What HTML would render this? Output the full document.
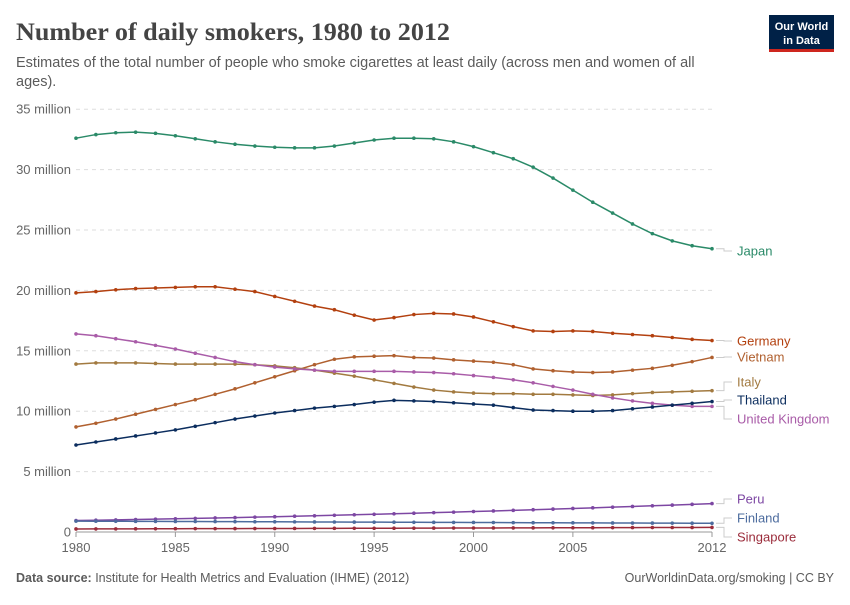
<!DOCTYPE html>
<html><head><meta charset="utf-8"><style>
body{margin:0;background:#fff;width:850px;height:600px;overflow:hidden;font-family:"Liberation Sans",sans-serif}
</style></head><body>
<svg width="850" height="600" xmlns="http://www.w3.org/2000/svg" id="s">
<text x="16" y="40" font-family="Liberation Serif,serif" font-size="25" font-weight="bold" fill="#444" textLength="434" lengthAdjust="spacingAndGlyphs">Number of daily smokers, 1980 to 2012</text>
<text x="16" y="67" font-size="14.5" fill="#5b5b5b">Estimates of the total number of people who smoke cigarettes at least daily (across men and women of all</text>
<text x="16" y="86" font-size="14.5" fill="#5b5b5b">ages).</text>
<rect x="769" y="15" width="65" height="35" fill="#002147"/>
<rect x="769" y="49" width="65" height="3" fill="#ce261e"/>
<text x="801.5" y="30" text-anchor="middle" font-size="11" font-weight="bold" fill="#fff">Our World</text>
<text x="801.5" y="44" text-anchor="middle" font-size="11" font-weight="bold" fill="#fff">in Data</text>
<text x="16" y="582" font-size="12.5" fill="#5b5b5b"><tspan font-weight="bold">Data source:</tspan> Institute for Health Metrics and Evaluation (IHME) (2012)</text>
<text x="834" y="582" text-anchor="end" font-size="12.5" fill="#5b5b5b">OurWorldinData.org/smoking | CC BY</text>
<g id="g"></g>
</svg>
<script>
var g=document.getElementById('g'),h='';
function X(y){return 76+(y-1980)*19.875}
function Y(v){return 532-v*12.08}
for(var i=0;i<=7;i++){var y=Y(i*5);
 if(i>0)h+='<line x1="76" x2="712" y1="'+y+'" y2="'+y+'" stroke="#ddd" stroke-dasharray="4,4"/>';
 h+='<text x="71" y="'+(y+4.5)+'" text-anchor="end" font-size="13" fill="#666">'+(i==0?'0':i*5+' million')+'</text>';}
h+='<line x1="76" x2="712" y1="532" y2="532" stroke="#999"/>';
[1980,1985,1990,1995,2000,2005,2012].forEach(function(t){h+='<line x1="'+X(t)+'" x2="'+X(t)+'" y1="532" y2="537" stroke="#999"/><text x="'+X(t)+'" y="552" text-anchor="middle" font-size="13" fill="#666">'+t+'</text>'});
function lin(a,b){var r=[];for(var i=0;i<33;i++)r.push(a+(b-a)*i/32);return r}
function cur(a,b){var r=[];for(var i=0;i<33;i++){var t=i/32;r.push(a+(b-a)*t*(0.6+0.4*t))}return r}
var S=[
["Japan","#2a8a68",[32.6,32.9,33.05,33.1,33.0,32.8,32.55,32.3,32.1,31.95,31.85,31.8,31.8,31.95,32.2,32.45,32.6,32.6,32.55,32.3,31.9,31.4,30.9,30.2,29.3,28.3,27.3,26.4,25.5,24.7,24.1,23.7,23.45],251],
["Germany","#b3400f",[19.8,19.9,20.05,20.15,20.2,20.25,20.3,20.3,20.1,19.9,19.5,19.1,18.7,18.4,17.95,17.55,17.75,18.0,18.1,18.05,17.8,17.4,17.0,16.65,16.6,16.65,16.6,16.45,16.35,16.25,16.1,15.95,15.85],341],
["Vietnam","#b0602f",[8.7,9.0,9.35,9.75,10.15,10.55,10.95,11.4,11.85,12.35,12.85,13.35,13.85,14.3,14.5,14.55,14.6,14.45,14.4,14.25,14.15,14.05,13.85,13.5,13.35,13.25,13.2,13.25,13.4,13.55,13.8,14.1,14.45],357],
["Italy","#a27a40",[13.9,14.0,14.0,14.0,13.95,13.9,13.9,13.9,13.9,13.85,13.75,13.6,13.4,13.15,12.9,12.6,12.3,12.0,11.75,11.6,11.5,11.45,11.45,11.4,11.4,11.35,11.3,11.35,11.45,11.55,11.6,11.65,11.7],382],
["United Kingdom","#a95ca8",[16.4,16.25,16.0,15.75,15.45,15.15,14.8,14.45,14.1,13.85,13.65,13.5,13.4,13.3,13.3,13.3,13.3,13.25,13.2,13.1,12.95,12.8,12.6,12.35,12.05,11.75,11.4,11.1,10.85,10.65,10.5,10.4,10.4],419],
["Thailand","#0b2d5e",[7.2,7.45,7.7,7.95,8.2,8.45,8.75,9.05,9.35,9.6,9.85,10.05,10.25,10.4,10.55,10.75,10.9,10.85,10.8,10.7,10.6,10.5,10.3,10.1,10.05,10.0,10.0,10.05,10.2,10.35,10.5,10.65,10.8],400],
["Peru","#7d47a3",cur(0.95,2.35),499],
["Finland","#4d6c9e",lin(0.9,0.72),518],
["Singapore","#9b2c3b",lin(0.25,0.38),537]];
S.forEach(function(s){var p='';s[2].forEach(function(v,i){p+=X(1980+i)+','+Y(v)+' '});
 h+='<polyline points="'+p+'" fill="none" stroke="'+s[1]+'" stroke-width="1.5"/>';
 s[2].forEach(function(v,i){h+='<circle cx="'+X(1980+i)+'" cy="'+Y(v)+'" r="1.8" fill="'+s[1]+'"/>'});
 var ey=Y(s[2][32]),ly=s[3];
 h+='<polyline points="716,'+ey+' 724,'+ey+' 724,'+ly+' 732,'+ly+'" fill="none" stroke="#ccc"/>';
 h+='<text x="737" y="'+(ly+4.5)+'" font-size="13" fill="'+s[1]+'">'+s[0]+'</text>';});
g.innerHTML=h;
</script>
</body></html>
